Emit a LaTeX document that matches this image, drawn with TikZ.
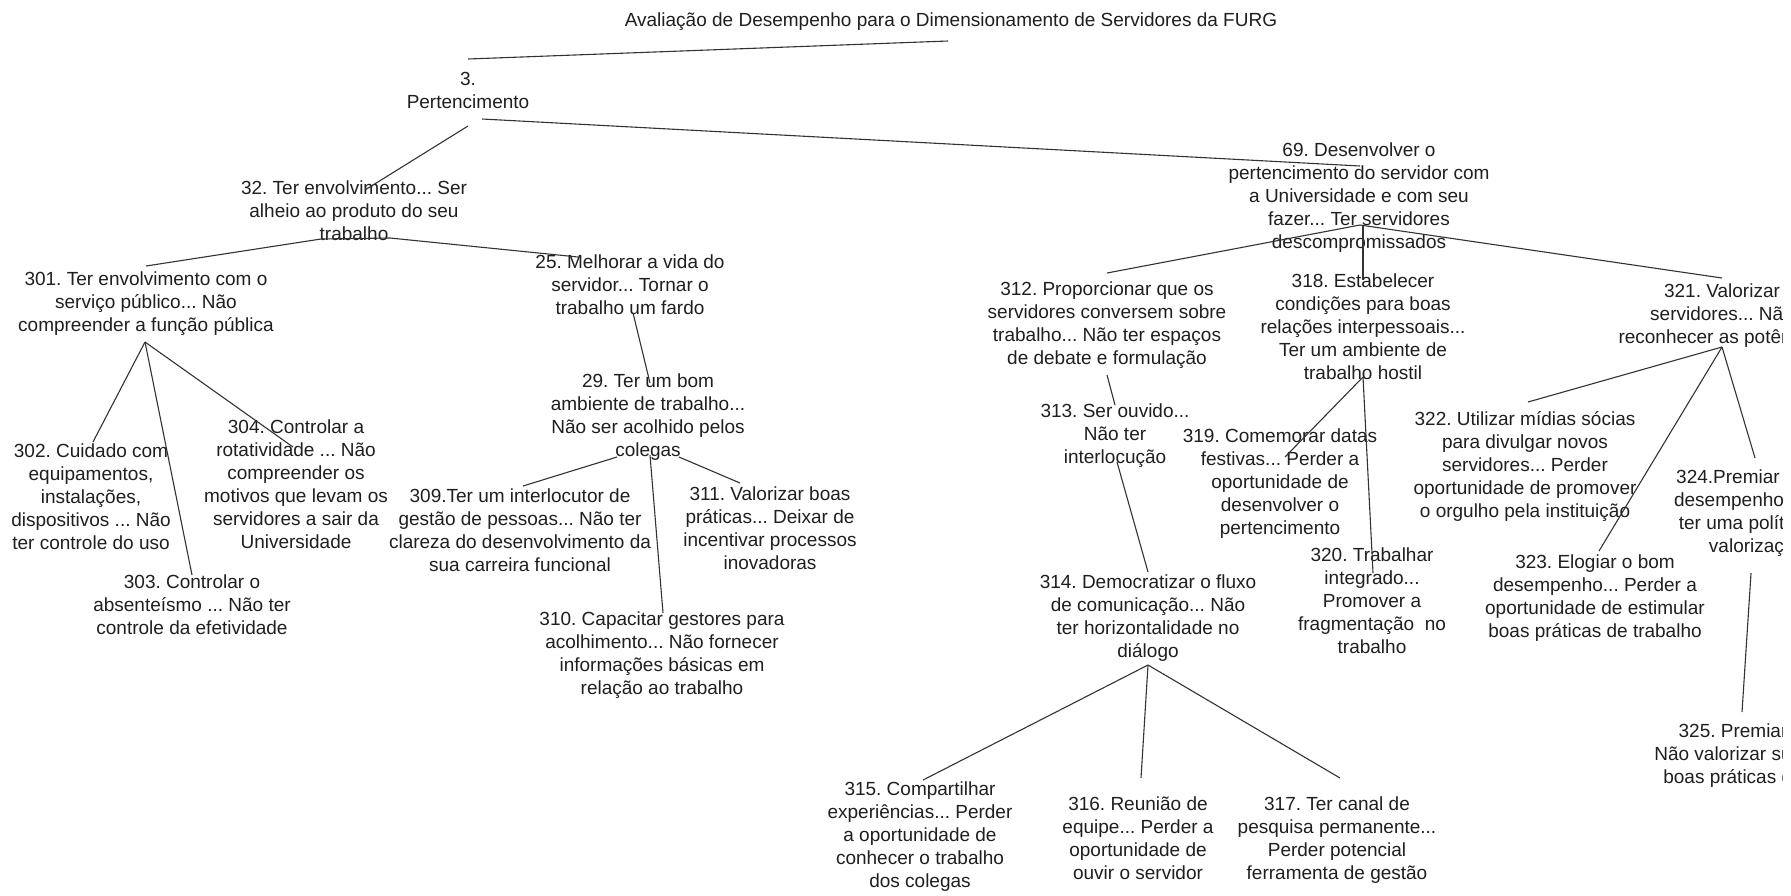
\documentclass[tikz,border=0pt]{standalone}
\usepackage{fontspec}
\setmainfont{Liberation Sans}
\newcommand\tfont{\fontsize{9.5}{11.5}\selectfont\frenchspacing}
\begin{document}
\begin{tikzpicture}[x=0.5pt,y=-0.5pt,
  txt/.style={align=center, inner sep=0pt, anchor=north, font=\tfont,
    text=black!88, execute at begin node=\strut},
  link/.style={draw=black!80, line width=0.55pt}]
\useasboundingbox (0,0) rectangle (1791,895);
\fill[white] (0,0) rectangle (1791,895);
\clip (0,0) rectangle (1782,895);

% ---- nodes (positions in pixels, y downward) ----
\node[txt] (title) at (951,10) {Avaliação de Desempenho para o Dimensionamento de Servidores da FURG};
\node[txt] (n3) at (468,72) {3.\\Pertencimento};
\node[txt] (n32) at (354,180) {32. Ter envolvimento... Ser\\alheio ao produto do seu\\trabalho};
\node[txt] (n301) at (146,271) {301. Ter envolvimento com o\\serviço público... Não\\compreender a função pública};
\node[txt] (n25) at (630,254) {25. Melhorar a vida do\\servidor... Tornar o\\trabalho um fardo};
\node[txt] (n302) at (91,443) {302. Cuidado com\\equipamentos,\\instalações,\\dispositivos ... Não\\ter controle do uso};
\node[txt] (n303) at (192,574) {303. Controlar o\\absenteísmo ... Não ter\\controle da efetividade};
\node[txt] (n304) at (296,419) {304. Controlar a\\rotatividade ... Não\\compreender os\\motivos que levam os\\servidores a sair da\\Universidade};
\node[txt] (n29) at (648,373) {29. Ter um bom\\ambiente de trabalho...\\Não ser acolhido pelos\\colegas};
\node[txt] (n309) at (520,488) {309.Ter um interlocutor de\\gestão de pessoas... Não ter\\clareza do desenvolvimento da\\sua carreira funcional};
\node[txt] (n310) at (662,611) {310. Capacitar gestores para\\acolhimento... Não fornecer\\informações básicas em\\relação ao trabalho};
\node[txt] (n311) at (770,486) {311. Valorizar boas\\práticas... Deixar de\\incentivar processos\\inovadoras};
\node[txt] (n69) at (1359,142) {69. Desenvolver o\\pertencimento do servidor com\\a Universidade e com seu\\fazer... Ter servidores\\descompromissados};
\node[txt] (n312) at (1107,281) {312. Proporcionar que os\\servidores conversem sobre\\trabalho... Não ter espaços\\de debate e formulação};
\node[txt] (n318) at (1363,273) {318. Estabelecer\\condições para boas\\relações interpessoais...\\Ter um ambiente de\\trabalho hostil};
\node[txt] (n321) at (1722,283) {321. Valorizar\\servidores... Não\\reconhecer as potências};
\node[txt] (n313) at (1115,403) {313. Ser ouvido...\\Não ter\\interlocução};
\node[txt] (n319) at (1280,428) {319. Comemorar datas\\festivas... Perder a\\oportunidade de\\desenvolver o\\pertencimento};
\node[txt] (n320) at (1372,547) {320. Trabalhar\\integrado...\\Promover a\\fragmentação\ \ no\\trabalho};
\node[txt] (n314) at (1148,574) {314. Democratizar o fluxo\\de comunicação... Não\\ter horizontalidade no\\diálogo};
\node[txt] (n315) at (920,781) {315. Compartilhar\\experiências... Perder\\a oportunidade de\\conhecer o trabalho\\dos colegas};
\node[txt] (n316) at (1138,796) {316. Reunião de\\equipe... Perder a\\oportunidade de\\ouvir o servidor};
\node[txt] (n317) at (1337,796) {317. Ter canal de\\pesquisa permanente...\\Perder potencial\\ferramenta de gestão};
\node[txt] (n322) at (1525,411) {322. Utilizar mídias sócias\\para divulgar novos\\servidores... Perder\\oportunidade de promover\\o orgulho pela instituição};
\node[txt] (n323) at (1595,554) {323. Elogiar o bom\\desempenho... Perder a\\oportunidade de estimular\\boas práticas de trabalho};
\node[txt] (n324) at (1757,469) {324.Premiar o bom\\desempenho... Não\\ter uma política de\\valorização};
\node[txt] (n325) at (1733,723) {325. Premiar\\Não valorizar suas\\boas práticas de};

% ---- attachment points of the connectors ----
\coordinate (title-out) at (948,41);
\coordinate (n3-in) at (468,59);
\coordinate (n3-outA) at (482,119);
\coordinate (n3-outB) at (468,126);
\coordinate (n69-in) at (1360,166);
\coordinate (n32-in) at (365,190);
\coordinate (n32-outL) at (321,239);
\coordinate (n32-outR) at (390,238);
\coordinate (n301-in) at (146,266);
\coordinate (n25-in) at (578,257);
\coordinate (n301-out) at (145,342);
\coordinate (n302-in) at (93,442);
\coordinate (n303-in) at (192,575);
\coordinate (n304-in) at (293,447);
\coordinate (n25-out) at (633,313);
\coordinate (n29-in) at (650,383);
\coordinate (n29-outL) at (617,457);
\coordinate (n29-outM) at (650,455);
\coordinate (n29-outR) at (679,457);
\coordinate (n309-in) at (523,486);
\coordinate (n310-in) at (663,613);
\coordinate (n311-in) at (740,483);
\coordinate (n69-out) at (1360,225);
\coordinate (n69-outV) at (1363,225);
\coordinate (n312-in) at (1107,273);
\coordinate (n318-in) at (1363,280);
\coordinate (n321-in) at (1722,278);
\coordinate (n312-out) at (1107,375);
\coordinate (n313-in) at (1115,405);
\coordinate (n313-out) at (1117,462);
\coordinate (n314-in) at (1148,572);
\coordinate (n318-out) at (1363,377);
\coordinate (n319-in) at (1285,457);
\coordinate (n320-in) at (1373,573);
\coordinate (n314-out) at (1148,665);
\coordinate (n315-in) at (923,780);
\coordinate (n316-in) at (1141,778);
\coordinate (n317-in) at (1340,778);
\coordinate (n321-out) at (1722,347);
\coordinate (n322-in) at (1528,402);
\coordinate (n323-in) at (1599,551);
\coordinate (n324-in) at (1755,458);
\coordinate (n324-out) at (1751,573);
\coordinate (n325-in) at (1742,712);

% ---- connectors ----
\draw[link] (title-out) -- (n3-in);
\draw[link] (n3-outA) -- (n69-in);
\draw[link] (n3-outB) -- (n32-in);
\draw[link] (n32-outR) -- (n32-outL) -- (n301-in);
\draw[link] (n32-outR) -- (n25-in);
\draw[link] (n301-out) -- (n302-in);
\draw[link] (n301-out) -- (n303-in);
\draw[link] (n301-out) -- (n304-in);
\draw[link] (n25-out) -- (n29-in);
\draw[link] (n29-outL) -- (n309-in);
\draw[link] (n29-outM) -- (n310-in);
\draw[link] (n29-outR) -- (n311-in);
\draw[link] (n69-out) -- (n312-in);
\draw[link] (n69-outV) -- (n318-in);
\draw[link] (n69-out) -- (n321-in);
\draw[link] (n312-out) -- (n313-in);
\draw[link] (n313-out) -- (n314-in);
\draw[link] (n318-out) -- (n319-in);
\draw[link] (n318-out) -- (n320-in);
\draw[link] (n314-out) -- (n315-in);
\draw[link] (n314-out) -- (n316-in);
\draw[link] (n314-out) -- (n317-in);
\draw[link] (n321-out) -- (n322-in);
\draw[link] (n321-out) -- (n323-in);
\draw[link] (n321-out) -- (n324-in);
\draw[link] (n324-out) -- (n325-in);
\end{tikzpicture}
\end{document}
